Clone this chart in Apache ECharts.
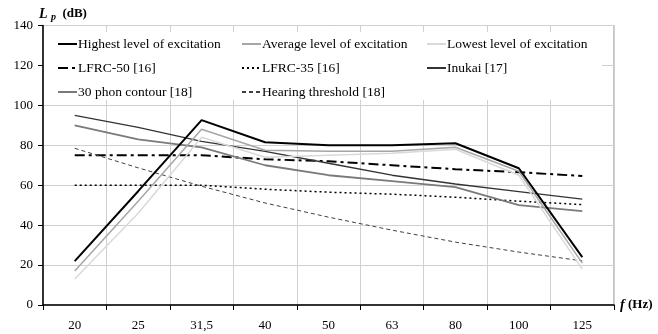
<!DOCTYPE html>
<html><head><meta charset="utf-8">
<script src="https://cdn.jsdelivr.net/npm/echarts@6/dist/echarts.min.js"></script>
<style>html,body{margin:0;padding:0;background:#fff}#c{width:658px;height:334px}</style>
</head><body><div id="c"></div>
<script>
const categories = ['20','25','31,5','40','50','63','80','100','125'];
const highest   = [22, 57, 92.6, 81.5, 80, 80, 81, 68.5, 24];
const average   = [17, 52, 88, 77.5, 77, 77, 79, 67, 21];
const lowest    = [13, 46, 84, 74, 75, 76, 78, 65, 18];
const lfrc50    = [75, 75, 75, 73, 72, 70, 68, 66.5, 64.6];
const lfrc35    = [60, 60, 60, 58, 56.5, 55.5, 54, 52, 50.3];
const inukai    = [95, 89, 82, 77, 71, 65, 60.6, 56.8, 53];
const phon30    = [90, 83, 79, 70, 65, 62, 59, 50, 47];
const threshold = [78.5, 68.7, 59.5, 51.1, 44.0, 37.5, 31.5, 26.5, 22.1];
const yTicks = [0, 20, 40, 60, 80, 100, 120, 140];

const font = 'Liberation Serif';
const chart = echarts.init(document.getElementById('c'));
function s(name, data, color, width, type, z) {
  return { name, type: 'line', data, symbol: 'none', z: z || 2,
    lineStyle: { color, width, type: type || 'solid' }, itemStyle: { color: 'rgba(0,0,0,0)' } };
}
const legendCommon = { orient: 'vertical', top: 32, itemGap: 10, itemWidth: 19, itemHeight: 14,
  itemStyle: { opacity: 0, color: 'rgba(0,0,0,0)', borderWidth: 0 },
  textStyle: { fontFamily: font, fontSize: 13.5, color: '#000', padding: [0,0,0,-4] }, z: 5 };
chart.setOption({
  animation: false,
  textStyle: { fontFamily: font },
  grid: { left: 43, right: 44, top: 25.5, bottom: 29, show: true, borderColor: '#8c8c8c', borderWidth: 1 },
  graphic: [
    { type: 'rect', shape: { x: 44, y: 32, width: 558, height: 68 }, style: { fill: '#fff' }, z: 1 },
    { type: 'text', left: 39, top: 7, style: { rich: {
        a: { fontFamily: font, fontSize: 14, fontWeight: 'bold', fontStyle: 'italic', fill: '#000' },
        b: { fontFamily: font, fontSize: 10, fontWeight: 'bold', fontStyle: 'italic', fill: '#000', padding: [6,0,0,0] },
        c: { fontFamily: font, fontSize: 13, fontWeight: 'bold', fill: '#000' } },
        text: '{a|L} {b|p}{c|  (dB)}' } },
    { type: 'text', left: 620, top: 298, style: { rich: {
        a: { fontFamily: font, fontSize: 14, fontWeight: 'bold', fontStyle: 'italic', fill: '#000' },
        c: { fontFamily: font, fontSize: 13, fontWeight: 'bold', fill: '#000' } },
        text: '{a|f} {c|(Hz)}' } }
  ],
  legend: [
    Object.assign({ left: 52, data: ['Highest level of excitation', 'LFRC-50 [16]', '30 phon contour [18]'] }, legendCommon),
    Object.assign({ left: 236, data: ['Average level of excitation', 'LFRC-35 [16]', 'Hearing threshold [18]'] }, legendCommon),
    Object.assign({ left: 421, data: ['Lowest level of excitation', 'Inukai [17]'] }, legendCommon)
  ],
  xAxis: { type: 'category', data: categories, boundaryGap: true,
    axisLine: { lineStyle: { color: '#000', width: 1.5 } },
    axisTick: { show: true, length: 5, lineStyle: { color: '#000' } },
    axisLabel: { fontFamily: font, fontSize: 13, color: '#000', margin: 14 },
    splitLine: { show: true, lineStyle: { color: '#d0d0d0', width: 1 } } },
  yAxis: { type: 'value', min: 0, max: 140, interval: 20,
    axisLine: { show: true, lineStyle: { color: '#000', width: 1.5 } },
    axisTick: { show: true, length: 5, lineStyle: { color: '#000' } },
    axisLabel: { fontFamily: font, fontSize: 13, color: '#000', margin: 10,
      formatter: v => yTicks.includes(v) ? String(v) : '' },
    splitLine: { show: true, lineStyle: { color: '#d0d0d0', width: 1 } } },
  series: [
    s('Highest level of excitation', highest, '#000', 2, 'solid', 6),
    s('Average level of excitation', average, '#a6a6a6', 1.5, 'solid', 5),
    s('Lowest level of excitation', lowest, '#d9d9d9', 1.5, 'solid', 4),
    s('LFRC-50 [16]', lfrc50, '#000', 2, [10,4,3,4], 3),
    s('LFRC-35 [16]', lfrc35, '#000', 1.5, [2,3], 3),
    s('Inukai [17]', inukai, '#333333', 1.3, 'solid', 3),
    s('30 phon contour [18]', phon30, '#7a7a7a', 1.8, 'solid', 3),
    s('Hearing threshold [18]', threshold, '#404040', 1, [4,3], 3)
  ]
});
</script></body></html>
